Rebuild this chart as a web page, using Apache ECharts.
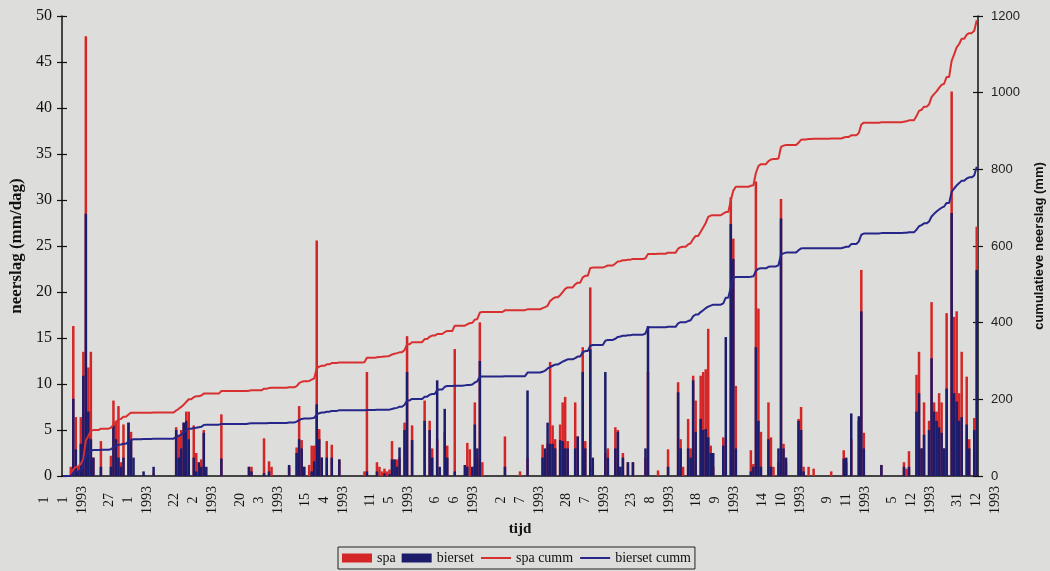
<!DOCTYPE html>
<html>
<head>
<meta charset="utf-8">
<script src="https://cdn.jsdelivr.net/npm/echarts@6/dist/echarts.min.js"></script>
<style>
html,body{margin:0;padding:0;background:#dddddb;}
#chart{width:1050px;height:571px;}
</style>
</head>
<body>
<div id="chart"></div>
<script>
// Days of 1993 (0 = 1 Jan) with visible precipitation, and values (mm/day)
const wetDays = [
  3,4,5,6,7,8,9,10,11,12, 15,19,20,21,22,23,24,26,27,28, 32,36,45,46,47,48,49,50,52,53, 54,55,56,57,63,
  74,75,80,82,83,90,93,94,95,96, 98,99,100,101,102,103,105,107,110,120, 121,125,126,127,128,129,130,131,132,133, 134,136,137,139,144,146,
  147,149,150,152,153,156,160,161,162,163, 164,165,166,167,176,182,185,191,192,193, 194,195,196,198,199,200,201,204,205,207, 208,210,211,216,217,220,
  221,222,223,225,227,232,233,237,241,245, 246,247,249,250,251,252,254,255,256,257, 258,259,263,264,266,267,268,274,275,276, 277,278,281,282,283,285,286,287,288,293, 294,
  295,297,299,306,311,312,314,317,318,319, 326,335,336,337,340,341,342,343,345,346, 347,348,349,350,351,352,354,355,356,357, 358,360,361,363,364
];
const spaWet = [
  1,16.3,6.4,1,6.4,13.5,47.8,11.8,13.5,2, 3.8,2.2,8.2,6,7.6,1.5,5.6,5.8,4.8,0, 0,0.3,5.3,4.5,5,5.8,7,7,5.5,2.5, 0,1.8,5,0,6.7,
  1,1,4.1,1.6,1,1,3.1,7.6,3.9,1, 1.2,3.3,3.3,25.6,5.1,2,3.8,3.4,1.8,0.5, 11.3,1.5,1,0.5,0.8,0.5,0.7,3.8,1.8,1.8, 2,5.8,15.2,5.5,8.2,6,
  3,4,0,4.8,3.3,13.8,0,3.6,2.9,1, 8,2,16.7,1.5,4.3,0.5,2,3.4,2.5,3.5, 12.4,5.5,4,5.6,8,8.6,3.8,8,4.3,14, 3.8,20.5,1,2.5,3,5.3,
  5,1,2.5,1.5,1.5,2,11.3,0.6,2.9,10.2, 4,1,6.2,3,10.9,8.2,10.9,11.3,11.6,16, 3.3,1,4.2,4,30.3,25.8,9.8,2.8,1.3,32, 18.2,4.8,8,4.2,1,1.5,30.1,3.5,1.5,6.2, 7.5,
  1,1,0.8,0.5,2.8,1.5,4,6,22.4,4.7, 1.2,1.5,0.8,2.7,11,13.5,3,8,6,18.9, 8,7,9,8,3,17.7,41.8,17.3,17.9,9, 13.5,10.8,4,6.3,27.1
];
const biersetWet = [
  0,8.4,2.9,0.5,3.5,10.9,28.5,7,4,2, 1,1,5.5,4,2,1,2,5.8,4,2, 0.5,1,5,2,3,5.8,6,4,2,0.5, 1.5,1,4.7,1,1.9,
  1,0.5,0.3,0.5,0,1.2,2.5,4,3,1, 0,0.5,1.6,7.8,4,2,2,2,1.8,0, 0.5,0.5,0,0,0.3,0,0.2,1.8,1.8,1, 3.1,5,11.3,3.9,6,5,
  2,10.4,1,7.3,2,0.5,1.2,1,0,1, 5.6,3,12.5,0,1,0,9.3,2,3,5.8, 3.5,3.5,3,3.9,3.8,3,3,3,4.3,11.3, 3,13.8,2,11.3,2,3,
  4.8,1,2,1.5,1.5,3,16.3,0,1,9.1, 3,0,3,2,10.4,4.8,6.2,5,5.1,4.2, 2.5,2.5,3.3,15.1,27.4,23.6,3,0.5,1,14, 6,1,4,1,0,3,28,3,2,6, 5,
  0.5,0,0,0,1.9,2,6.8,6.5,17.9,3, 1.2,1,0,1,7,9,3,4.5,5,12.8, 7,6,5.3,4.7,3,9.5,28.6,9,8.1,6, 6.4,5.6,3,5,22.4
];
const leftTicks = {min: 0, max: 50, interval: 5};
const rightTicks = {min: 0, max: 1200, interval: 200};

// categories: every day of 1993 as d-m-yyyy
const categories = [];
for (let i = 0; i < 365; i++) {
  const d = new Date(1993, 0, 1 + i);
  categories.push(d.getDate() + '-' + (d.getMonth() + 1) + '-' + d.getFullYear());
}
const spa = new Array(365).fill(0);
const bierset = new Array(365).fill(0);
wetDays.forEach((day, k) => { spa[day] = spaWet[k]; bierset[day] = biersetWet[k]; });
const spaCumm = [], biersetCumm = [];
let s1 = 0, s2 = 0;
for (let i = 0; i < 365; i++) {
  s1 += spa[i]; s2 += bierset[i];
  spaCumm.push(+s1.toFixed(1)); biersetCumm.push(+s2.toFixed(1));
}

const serif = 'Liberation Serif, Times New Roman, serif';
const sans = 'Liberation Sans, Arial, sans-serif';
const ink = '#111';

const chart = echarts.init(document.getElementById('chart'), null, {renderer: 'canvas'});
chart.setOption({
  backgroundColor: '#dddddb',
  animation: false,
  grid: {left: 62, right: 72, top: 16, bottom: 95, containLabel: false, outerBoundsMode: 'none'},
  legend: {
    left: 338, top: 547,
    itemWidth: 30, itemHeight: 9, itemGap: 6,
    borderColor: '#222', borderWidth: 1, padding: [4, 4, 4, 4],
    textStyle: {fontFamily: serif, fontSize: 14, color: ink},
    data: [
      {name: 'spa', icon: 'rect'},
      {name: 'bierset', icon: 'rect'},
      {name: 'spa cumm', itemStyle: {opacity: 0}},
      {name: 'bierset cumm', itemStyle: {opacity: 0}}
    ]
  },
  xAxis: {
    type: 'category',
    data: categories,
    boundaryGap: true,
    name: 'tijd', nameLocation: 'middle', nameGap: 45,
    nameTextStyle: {fontFamily: serif, fontSize: 15, fontWeight: 'bold', color: ink},
    axisLine: {lineStyle: {color: ink, width: 1.5}},
    axisTick: {show: false},
    axisLabel: {
      interval: 25, rotate: 90, align: 'center', verticalAlign: 'middle', margin: 24,
      fontFamily: serif, fontSize: 14, lineHeight: 19, color: ink,
      formatter: v => v.split('-').join('\n')
    },
    splitLine: {show: false}
  },
  yAxis: [
    {
      type: 'value', position: 'left', min: leftTicks.min, max: leftTicks.max, interval: leftTicks.interval,
      name: 'neerslag (mm/dag)', nameLocation: 'middle', nameRotate: 90, nameGap: 36,
      nameTextStyle: {fontFamily: serif, fontSize: 17, fontWeight: 'bold', color: ink},
      axisLine: {show: true, lineStyle: {color: ink, width: 1.5}},
      axisTick: {show: true, length: 5, lineStyle: {color: ink, width: 1.2}},
      axisLabel: {fontFamily: serif, fontSize: 16, color: ink, margin: 10},
      splitLine: {show: false}
    },
    {
      type: 'value', position: 'right', min: rightTicks.min, max: rightTicks.max, interval: rightTicks.interval,
      name: 'cumulatieve neerslag (mm)', nameLocation: 'middle', nameRotate: 90, nameGap: 55,
      nameTextStyle: {fontFamily: sans, fontSize: 13, fontWeight: 'bold', color: ink},
      axisLine: {show: true, lineStyle: {color: ink, width: 1.5}},
      axisTick: {show: true, length: 5, lineStyle: {color: ink, width: 1.2}},
      axisLabel: {fontFamily: sans, fontSize: 13, color: '#222', margin: 13, formatter: v => String(v)},
      splitLine: {show: false}
    },
    {
      type: 'value', position: 'left', min: leftTicks.min, max: leftTicks.max, interval: leftTicks.interval,
      axisLine: {show: false}, axisLabel: {show: false}, splitLine: {show: false},
      axisTick: {show: true, inside: true, length: 5, lineStyle: {color: ink, width: 1.2}}
    },
    {
      type: 'value', position: 'right', min: rightTicks.min, max: rightTicks.max, interval: rightTicks.interval,
      axisLine: {show: false}, axisLabel: {show: false}, splitLine: {show: false},
      axisTick: {show: true, inside: true, length: 5, lineStyle: {color: ink, width: 1.2}}
    }
  ],
  series: [
    {name: 'spa', type: 'bar', data: spa, yAxisIndex: 0, barGap: '-100%', barCategoryGap: '0%',
     itemStyle: {color: '#d42626'}, z: 2},
    {name: 'bierset', type: 'bar', data: bierset, yAxisIndex: 0, barGap: '-100%', barCategoryGap: '0%',
     itemStyle: {color: '#1c1c6a'}, z: 3},
    {name: 'spa cumm', type: 'line', data: spaCumm, yAxisIndex: 1, symbol: 'none', showSymbol: false,
     lineStyle: {color: '#d83030', width: 2}, itemStyle: {color: '#d83030'}, z: 5},
    {name: 'bierset cumm', type: 'line', data: biersetCumm, yAxisIndex: 1, symbol: 'none', showSymbol: false,
     lineStyle: {color: '#26268a', width: 2}, itemStyle: {color: '#26268a'}, z: 5}
  ]
});
</script>
</body>
</html>
